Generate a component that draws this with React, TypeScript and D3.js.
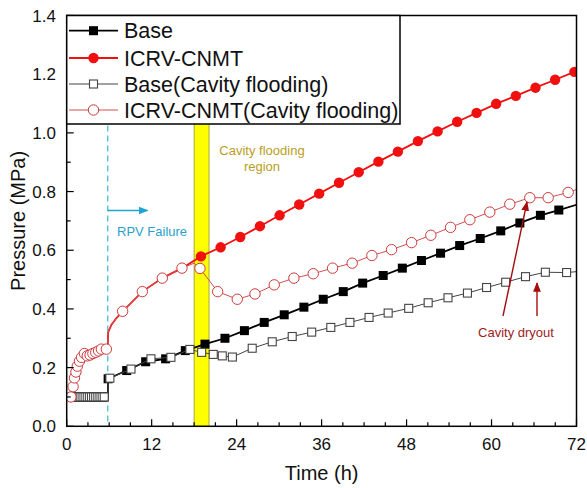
import React, { useEffect } from "react";
import * as d3 from "d3";

// ---------- data ----------
const xTicks = [0, 12, 24, 36, 48, 60, 72];
const yTicks = [0.0, 0.2, 0.4, 0.6, 0.8, 1.0, 1.2, 1.4];

// Base (filled squares)
const baseMarks: [number, number][] = [
  [0.8, 0.1], [1.1, 0.1], [1.4, 0.1], [1.7, 0.1], [2.0, 0.1], [2.3, 0.1], [2.6, 0.1], [2.9, 0.1],
  [3.2, 0.1], [3.5, 0.1], [3.8, 0.1], [4.1, 0.1], [4.4, 0.1], [4.7, 0.1], [5.0, 0.1], [5.3, 0.1],
  [5.85, 0.162], [8.47, 0.19], [11.15, 0.22], [13.97, 0.23], [16.75, 0.258], [19.53, 0.28],
  [22.35, 0.3], [25.1, 0.326], [27.9, 0.354], [30.72, 0.38], [33.5, 0.406], [36.23, 0.433],
  [39.06, 0.459], [41.8, 0.488], [44.7, 0.514], [47.4, 0.539], [50.1, 0.565], [52.8, 0.59],
  [55.5, 0.616], [58.4, 0.64], [61.3, 0.666], [64.0, 0.693], [66.9, 0.719], [69.5, 0.737],
];
const baseLineExtra: [number, number][] = [[5.8, 0.1], [72, 0.755]];

// Base (Cavity flooding) (open squares)
const baseCFMarks: [number, number][] = [
  [0.8, 0.1], [1.1, 0.1], [1.4, 0.1], [1.7, 0.1], [2.0, 0.1], [2.3, 0.1], [2.6, 0.1], [2.9, 0.1],
  [3.2, 0.1], [3.5, 0.1], [3.8, 0.1], [4.1, 0.1], [4.4, 0.1], [4.7, 0.1], [5.0, 0.1], [5.3, 0.1],
  [6.1, 0.164], [9.08, 0.195], [11.9, 0.23], [14.72, 0.235], [17.4, 0.262], [19.06, 0.252],
  [20.7, 0.245], [21.97, 0.24], [23.4, 0.236], [26.2, 0.266], [29.03, 0.288], [31.85, 0.306],
  [34.6, 0.321], [37.3, 0.337], [40.0, 0.354], [42.7, 0.371], [45.4, 0.386], [48.3, 0.402],
  [51.05, 0.421], [53.85, 0.438], [56.6, 0.454], [59.3, 0.473], [62.0, 0.491], [64.8, 0.51],
  [67.6, 0.525], [70.6, 0.524],
];
const baseCFLineExtra: [number, number][] = [[5.8, 0.1], [5.85, 0.162], [72, 0.527]];

// ICRV-CNMT pre-flooding history (shared by both ICRV series)
const icrvEarly: [number, number][] = [
  [0.6, 0.1], [0.9, 0.135], [1.1, 0.165], [1.3, 0.185], [1.5, 0.205], [1.8, 0.222], [2.1, 0.235],
  [2.5, 0.248], [2.9, 0.24], [3.3, 0.243], [3.7, 0.248], [4.1, 0.252], [4.5, 0.257], [4.9, 0.263],
  [5.6, 0.263],
];
const icrvJump: [number, number][] = [[5.8, 0.265], [5.85, 0.32], [6.3, 0.345], [7.0, 0.368]];
const icrvMid: [number, number][] = [[7.9, 0.392], [10.68, 0.459], [13.5, 0.505], [16.28, 0.539]];

// ICRV-CNMT (filled circles)
const icrvMarks: [number, number][] = [
  [18.96, 0.579], [21.74, 0.61], [24.51, 0.645], [27.29, 0.682], [30.07, 0.719], [32.84, 0.756],
  [35.66, 0.793], [38.46, 0.83], [41.24, 0.866], [44.02, 0.902], [46.77, 0.936], [49.6, 0.972],
  [52.38, 1.005], [55.15, 1.038], [57.89, 1.068], [60.65, 1.099], [63.43, 1.126], [66.21, 1.154],
  [68.98, 1.181], [71.7, 1.208],
];

// ICRV-CNMT (Cavity flooding) (open circles, after flooding)
const icrvCFExtra: [number, number][] = [[18.0, 0.556], [72, 0.807]];
const icrvCFLate: [number, number][] = [
  [18.82, 0.538], [21.32, 0.459], [24.09, 0.433], [26.59, 0.451], [29.31, 0.482], [32.09, 0.505],
  [34.82, 0.52], [37.55, 0.539], [40.32, 0.556], [43.1, 0.582], [45.88, 0.602], [48.71, 0.626],
  [51.43, 0.651], [54.21, 0.678], [56.94, 0.704], [59.76, 0.73], [62.58, 0.757], [65.41, 0.779],
  [68.0, 0.779], [70.82, 0.797],
];

const legendLabels = ["Base", "ICRV-CNMT", "Base(Cavity flooding)", "ICRV-CNMT(Cavity flooding)"];

// ---------- layout ----------
const W = 587, H = 488;
const M = { left: 66.7, right: 576.5, top: 15.5, bottom: 426.3 };
const FONT = "'Liberation Sans', Arial, Helvetica, sans-serif";

const byT = (a: [number, number][]) => [...a].sort((p, q) => p[0] - q[0]);

export default function App() {
  useEffect(() => {
    document.body.style.margin = "0";
  }, []);

  const x = d3.scaleLinear().domain([0, 72]).range([M.left, M.right]);
  const y = d3.scaleLinear().domain([0, 1.4]).range([M.bottom, M.top]);
  const line = d3.line<[number, number]>().x((d) => x(d[0])).y((d) => y(d[1]));

  const baseLine = byT([...baseMarks, ...baseLineExtra]);
  const baseCFLine = byT([...baseCFMarks, ...baseCFLineExtra]);
  const icrvLine = byT([...icrvEarly, ...icrvJump, ...icrvMid, ...icrvMarks]);
  const icrvCFMarks = [...icrvEarly, ...icrvMid, ...icrvCFLate];
  const icrvCFLine = byT([...icrvEarly, ...icrvJump, ...icrvMid, ...icrvCFExtra, ...icrvCFLate]);

  const xMinor = d3.range(0, 72.01, 3);
  const yMinor = d3.range(0, 1.401, 0.1);

  const sq = 9;
  const red = "#f01010";
  const pink = "#cc3a3a";

  const legendY = [30.7, 58, 84, 110];

  const drawMarker = (kind: number, cx: number, cy: number, key: string | number) => {
    if (kind === 0)
      return <rect key={key} x={cx - sq / 2} y={cy - sq / 2} width={sq} height={sq} fill="#000" />;
    if (kind === 1) return <circle key={key} cx={cx} cy={cy} r={5.2} fill={red} />;
    if (kind === 2)
      return (
        <rect key={key} x={cx - sq / 2 + 0.5} y={cy - sq / 2 + 0.5} width={sq - 1} height={sq - 1}
          fill="#fff" stroke="#444" strokeWidth={1.1} />
      );
    return <circle key={key} cx={cx} cy={cy} r={5.2} fill="#fff" stroke={pink} strokeWidth={1} />;
  };

  const lineStyles = [
    { stroke: "#000", w: 1.8 },
    { stroke: red, w: 1.8 },
    { stroke: "#444", w: 1 },
    { stroke: "#d05050", w: 1 },
  ];

  return (
    <svg width={W} height={H} style={{ display: "block", background: "#fff" }} fontFamily={FONT}>
      <defs>
        <clipPath id="plotClip">
          <rect x={M.left} y={M.top} width={M.right - M.left} height={M.bottom - M.top} />
        </clipPath>
        <marker id="arrBlue" viewBox="0 0 10 10" refX="9" refY="5" markerWidth="7" markerHeight="7" orient="auto">
          <path d="M0,1 L10,5 L0,9 z" fill="#1ea4d6" />
        </marker>
        <marker id="arrRed" viewBox="0 0 10 10" refX="9" refY="5" markerWidth="7" markerHeight="7" orient="auto">
          <path d="M0,1 L10,5 L0,9 z" fill="#a50d0d" />
        </marker>
      </defs>

      {/* cavity flooding band */}
      <rect x={x(18)} y={M.top} width={x(20.1) - x(18)} height={M.bottom - M.top}
        fill="#ffff00" stroke="#a8a838" strokeWidth={1} />

      {/* RPV failure */}
      <line x1={x(5.8)} x2={x(5.8)} y1={M.top} y2={M.bottom} stroke="#3bb8cc" strokeWidth={1.2}
        strokeDasharray="6,4" />
      <line x1={x(5.8)} x2={x(11.4)} y1={210.5} y2={210.5} stroke="#1ea4d6" strokeWidth={1.4}
        markerEnd="url(#arrBlue)" />
      <text x={117} y={236} fontSize={13} fill="#2a9fcc">RPV Failure</text>

      <text x={262} y={155} fontSize={13} fill="#b99e1e" textAnchor="middle">Cavity flooding</text>
      <text x={262} y={171} fontSize={13} fill="#b99e1e" textAnchor="middle">region</text>

      {/* series */}
      <g clipPath="url(#plotClip)">
        <path d={line(baseLine) || ""} fill="none" stroke={lineStyles[0].stroke} strokeWidth={lineStyles[0].w} />
        {baseMarks.map((d, i) => drawMarker(0, x(d[0]), y(d[1]), "b" + i))}
        <path d={line(icrvLine) || ""} fill="none" stroke={lineStyles[1].stroke} strokeWidth={lineStyles[1].w} />
        {icrvMarks.map((d, i) => drawMarker(1, x(d[0]), y(d[1]), "r" + i))}
        <path d={line(baseCFLine) || ""} fill="none" stroke={lineStyles[2].stroke} strokeWidth={lineStyles[2].w} />
        {baseCFMarks.map((d, i) => drawMarker(2, x(d[0]), y(d[1]), "bc" + i))}
        <path d={line(icrvCFLine) || ""} fill="none" stroke={lineStyles[3].stroke} strokeWidth={lineStyles[3].w} />
        {icrvCFMarks.map((d, i) => drawMarker(3, x(d[0]), y(d[1]), "rc" + i))}
      </g>

      {/* cavity dryout annotation */}
      <line x1={503} y1={316} x2={527} y2={202} stroke="#a50d0d" strokeWidth={1.4} markerEnd="url(#arrRed)" />
      <line x1={537} y1={316} x2={537} y2={283} stroke="#a50d0d" strokeWidth={1.4} markerEnd="url(#arrRed)" />
      <text x={516} y={337} fontSize={13} fill="#a01c1c" textAnchor="middle">Cavity dryout</text>

      {/* axes ticks */}
      {xMinor.map((t, i) => {
        const major = Math.abs(t % 12) < 1e-6;
        return <line key={"xt" + i} x1={x(t)} x2={x(t)} y1={M.bottom} y2={M.bottom - (major ? 7 : 4)}
          stroke="#000" strokeWidth={1.2} />;
      })}
      {yMinor.map((v, i) => {
        const major = i % 2 === 0;
        return <line key={"yt" + i} x1={M.left} x2={M.left + (major ? 7 : 4)} y1={y(v)} y2={y(v)}
          stroke="#000" strokeWidth={1.2} />;
      })}
      {xTicks.map((t) => (
        <text key={"xl" + t} x={x(t)} y={450} fontSize={17} textAnchor="middle" fill="#111">{t}</text>
      ))}
      {yTicks.map((v) => (
        <text key={"yl" + v} x={56} y={y(v) + 6} fontSize={17} textAnchor="end" fill="#111">{v.toFixed(1)}</text>
      ))}

      {/* frame */}
      <rect x={M.left} y={M.top} width={M.right - M.left} height={M.bottom - M.top} fill="none"
        stroke="#000" strokeWidth={1.5} />

      {/* axis titles */}
      <text x={(M.left + M.right) / 2} y={480} fontSize={20} textAnchor="middle" fill="#111">Time (h)</text>
      <text transform={`translate(25,${(M.top + M.bottom) / 2}) rotate(-90)`} fontSize={20} textAnchor="middle"
        fill="#111">Pressure (MPa)</text>

      {/* legend */}
      <rect x={M.left} y={M.top} width={400 - M.left} height={124 - M.top} fill="#fff" stroke="#000" strokeWidth={1.5} />
      {legendLabels.map((lab, i) => (
        <g key={"lg" + i}>
          <line x1={69} x2={118} y1={legendY[i]} y2={legendY[i]} stroke={lineStyles[i].stroke}
            strokeWidth={lineStyles[i].w} />
          {drawMarker(i, 93.5, legendY[i], "lm" + i)}
          <text x={124} y={legendY[i] + 7.5} fontSize={21.5} fill="#111">{lab}</text>
        </g>
      ))}
    </svg>
  );
}
